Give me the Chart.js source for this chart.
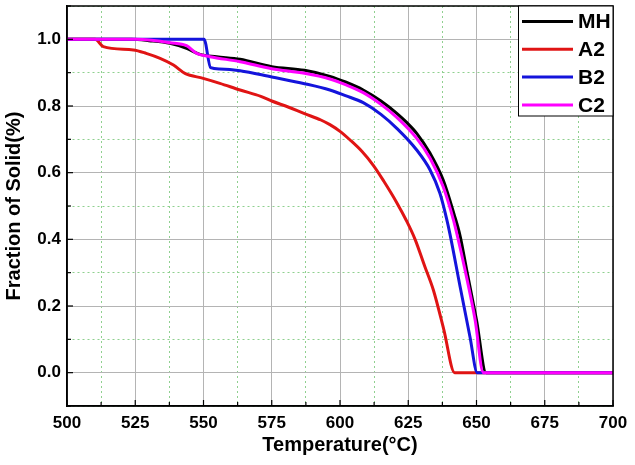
<!DOCTYPE html>
<html><head><meta charset="utf-8">
<script src="https://cdn.jsdelivr.net/npm/chart.js@4.4.0/dist/chart.umd.min.js"></script>
<style>html,body{margin:0;padding:0;background:#fff;} canvas{display:block;}</style>
</head><body>
<canvas id="c" width="635" height="465"></canvas>
<script>
// ---- data ----
const seriesNames = ['MH', 'A2', 'B2', 'C2'];
const seriesColors = ['#000000', '#e01414', '#1414dc', '#ff00ff'];

const mhTemp = [500, 523.7, 530, 537.7, 543.8, 548.7, 554.8, 563.4, 575, 587, 596.3, 602, 608.5, 615, 620.8, 624.5, 628.1, 633, 637.8, 641.8, 644, 646.4, 650, 653.5, 700];
const mhFrac = [1, 1, 0.996, 0.988, 0.973, 0.955, 0.948, 0.94, 0.918, 0.907, 0.889, 0.872, 0.848, 0.815, 0.778, 0.75, 0.718, 0.658, 0.578, 0.475, 0.41, 0.308, 0.158, 0, 0];

const a2Temp = [500, 510.3, 513.3, 524.3, 529, 534.1, 539, 543.2, 549.9, 556, 563.4, 571, 575, 581, 587, 593, 596.3, 600, 603.7, 608, 612.2, 616, 620.8, 624.4, 627.5, 631, 634.2, 638, 642, 700];
const a2Frac = [1, 1, 0.978, 0.968, 0.958, 0.943, 0.923, 0.898, 0.883, 0.868, 0.848, 0.829, 0.815, 0.797, 0.777, 0.758, 0.744, 0.724, 0.698, 0.664, 0.622, 0.575, 0.51, 0.455, 0.4, 0.32, 0.248, 0.13, 0, 0];

const b2Temp = [500, 550.2, 552.6, 556, 563.4, 575, 587, 596.3, 602, 608.5, 615, 620.8, 628.1, 633, 636.6, 639.1, 640.3, 644, 647.6, 650.3, 700];
const b2Frac = [1, 1, 0.915, 0.911, 0.906, 0.887, 0.867, 0.848, 0.831, 0.81, 0.775, 0.733, 0.668, 0.608, 0.538, 0.46, 0.415, 0.258, 0.108, 0, 0];

const c2Temp = [500, 525, 531, 537.7, 543.8, 547.5, 552.4, 563.4, 575, 587, 596.3, 602, 608.5, 615, 620.8, 628.1, 633, 637.8, 641.5, 643, 645.8, 649.5, 652.5, 700];
const c2Frac = [1, 1, 0.997, 0.99, 0.981, 0.958, 0.948, 0.933, 0.912, 0.898, 0.881, 0.864, 0.84, 0.805, 0.766, 0.703, 0.643, 0.558, 0.46, 0.41, 0.308, 0.158, 0, 0];

const xMin = 500, xMax = 700, xStep = 12.5;
const yMin = -0.1, yMax = 1.1, yStep = 0.1;
const xTitle = 'Temperature(\u00B0C)';
const yTitle = 'Fraction of Solid(%)';

// ---- build ----
const temps = [mhTemp, a2Temp, b2Temp, c2Temp];
const fracs = [mhFrac, a2Frac, b2Frac, c2Frac];
const drawOrder = [3, 2, 1, 0];

const datasets = seriesNames.map((name, i) => ({
  label: name,
  data: temps[i].map((t, k) => ({x: t, y: fracs[i][k]})),
  borderColor: seriesColors[i],
  backgroundColor: seriesColors[i],
  borderWidth: 3,
  pointRadius: 0,
  cubicInterpolationMode: 'monotone',
  fill: false,
  order: drawOrder[i],
  borderJoinStyle: 'round'
}));

const FONT = 'Arial, "Liberation Sans", sans-serif';
const isMajorX = v => Math.round((v - xMin) / xStep) % 2 === 0;
const isMajorY = v => Math.round(v * 10) % 2 === 0;
const MAJOR_GRID = '#b4b4b4';
const MINOR_GRID = '#8fd08f';

const framePlugin = {
  id: 'frame',
  afterDatasetsDraw(chart) {
    const {ctx, chartArea: a, scales} = chart;
    ctx.save();
    // inward tick marks
    ctx.strokeStyle = '#000';
    ctx.lineWidth = 1.2;
    scales.x.ticks.forEach(t => {
      const px = scales.x.getPixelForValue(t.value);
      const len = isMajorX(t.value) ? 6 : 4;
      ctx.beginPath(); ctx.moveTo(px, a.bottom); ctx.lineTo(px, a.bottom - len); ctx.stroke();
    });
    scales.y.ticks.forEach(t => {
      const py = scales.y.getPixelForValue(t.value);
      const len = isMajorY(t.value) ? 6 : 4;
      ctx.beginPath(); ctx.moveTo(a.left, py); ctx.lineTo(a.left + len, py); ctx.stroke();
    });
    // frame
    ctx.lineWidth = 1.5;
    ctx.strokeRect(a.left, a.top, a.right - a.left, a.bottom - a.top);
    // legend box
    const bw = 95, bh = 110;
    const bx = a.right - bw, by = a.top;
    ctx.fillStyle = '#fff';
    ctx.fillRect(bx, by, bw, bh);
    ctx.lineWidth = 1;
    ctx.strokeRect(bx + 0.5, by, bw - 0.5, bh);
    ctx.font = 'bold 21px ' + FONT;
    ctx.textBaseline = 'middle';
    chart.data.datasets.forEach((ds, i) => {
      const cy = by + 15.5 + i * 27.8;
      ctx.strokeStyle = ds.borderColor;
      ctx.lineWidth = 3;
      ctx.beginPath(); ctx.moveTo(bx + 4, cy); ctx.lineTo(bx + 55, cy); ctx.stroke();
      ctx.fillStyle = '#000';
      ctx.fillText(ds.label, bx + 60, cy + 1);
    });
    ctx.restore();
  }
};

new Chart(document.getElementById('c'), {
  type: 'line',
  data: {datasets},
  plugins: [framePlugin],
  options: {
    responsive: false,
    animation: false,
    layout: {padding: {top: 6, right: 22, left: 0, bottom: 0}},
    plugins: {legend: {display: false}, tooltip: {enabled: false}},
    scales: {
      x: {
        type: 'linear', min: xMin, max: xMax,
        afterFit(s) { s.height = 59; s.paddingLeft = 0; s.paddingRight = 0; },
        ticks: {
          stepSize: xStep, autoSkip: false, maxRotation: 0, padding: 7,
          color: '#000', font: {family: FONT, size: 17, weight: 'bold'},
          callback: v => isMajorX(v) ? String(Math.round(v)) : ''
        },
        grid: {
          drawTicks: false,
          color: c => (c.tick && !isMajorX(c.tick.value)) ? MINOR_GRID : MAJOR_GRID,
          lineWidth: 1
        },
        border: {
          display: true, color: '#000', width: 1.5,
          dash: c => (c.tick && !isMajorX(c.tick.value)) ? [2, 3] : []
        },
        title: {display: true, text: xTitle, color: '#000', font: {family: FONT, size: 20, weight: 'bold'}, padding: {top: 0, bottom: 8}}
      },
      y: {
        type: 'linear', min: yMin, max: yMax,
        afterFit(s) { s.width = 67; s.paddingTop = 0; s.paddingBottom = 0; },
        ticks: {
          stepSize: yStep, autoSkip: false, padding: 6,
          color: '#000', font: {family: FONT, size: 17, weight: 'bold'},
          callback: v => (isMajorY(v) && v > -0.05 && v < 1.05) ? (Math.round(v * 10) / 10).toFixed(1) : ''
        },
        grid: {
          drawTicks: false,
          color: c => (c.tick && !isMajorY(c.tick.value)) ? MINOR_GRID : MAJOR_GRID,
          lineWidth: 1
        },
        border: {
          display: true, color: '#000', width: 1.5,
          dash: c => (c.tick && !isMajorY(c.tick.value)) ? [2, 3] : []
        },
        title: {display: true, text: yTitle, color: '#000', font: {family: FONT, size: 20, weight: 'bold'}, padding: {top: 2, bottom: 0}}
      }
    }
  }
});
</script>
</body></html>
